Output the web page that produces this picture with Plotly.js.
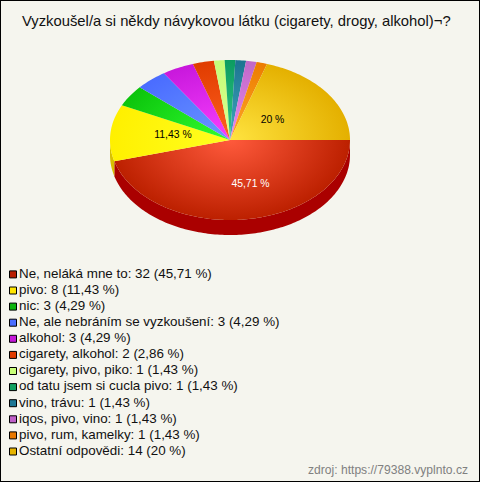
<!DOCTYPE html>
<html><head><meta charset="utf-8">
<script src="https://cdn.plot.ly/plotly-3.0.1.min.js"></script>
<style>html,body{margin:0;padding:0;background:#f5f5ee}#c{width:480px;height:482px}</style>
</head><body><div id="c"></div>
<script>
const categories = ["Ne, neláká mne to","pivo","nic","Ne, ale nebráním se vyzkoušení","alkohol","cigarety, alkohol","cigarety, pivo, piko","od tatu jsem si cucla pivo","vino, trávu","iqos, pivo, vino","pivo, rum, kamelky","Ostatní odpovědi"];
const counts = [32,8,3,3,3,2,1,1,1,1,1,14];
const shares = ["45,71 %","11,43 %","4,29 %","4,29 %","4,29 %","2,86 %","1,43 %","1,43 %","1,43 %","1,43 %","1,43 %","20 %"];
const legendColors = ["#b81e00","#ffe600","#0cb40c","#4a6eff","#c418d8","#e03c00","#c8ff78","#0fa060","#1e7896","#c060c8","#e87800","#e6b400"];
const centerColors = ["#ff5a3c","#ffff20","#30ff30","#6a96ff","#f840ff","#ff6020","#dcff90","#30c888","#40a8c0","#e888f0","#ffa828","#ffe440"];
const edgeColors = ["#bc2000","#fff000","#0cc40c","#4a6cff","#c818dc","#e03c00","#c4fc78","#0c9c60","#1c7490","#c068c8","#ec7c00","#e4b000"];
const wallColors = ["#aa0000","#d8c000"];

const CX=230, CY=140, RX=120, RY=80, DEPTH=15;
const total = counts.reduce((a,b)=>a+b,0);
const px = t => CX+RX*Math.cos(t), py = t => CY+RY*Math.sin(t);
const traces=[], HIDE={hoverinfo:'skip',showlegend:false};

function arc(a,b,dy){const xs=[],ys=[],n=Math.max(2,Math.ceil(Math.abs(b-a)/0.02));
  for(let i=0;i<=n;i++){const t=a+(b-a)*i/n;xs.push(px(t));ys.push(py(t)+dy);}return [xs,ys];}

let start=0; const ranges=counts.map(c=>{const r=[start,start+c/total*2*Math.PI];start=r[1];return r;});

wallColors.forEach((col,i)=>{
  const a=ranges[i][0], b=Math.min(ranges[i][1],Math.PI);
  const [x1,y1]=arc(a,b,0), [x2,y2]=arc(b,a,DEPTH);
  traces.push({type:'scatter',mode:'lines',x:x1.concat(x2),y:y1.concat(y2),fill:'toself',fillcolor:col,line:{width:0,color:col,simplify:false},...HIDE});
});
ranges.forEach((r,i)=>{
  const [xa,ya]=arc(r[0],r[1],0);
  const spurX=[CX,CX+RX,CX,CX-RX,CX,CX,CX,CX,CX], spurY=[CY,CY,CY,CY,CY,CY-RY,CY,CY+RY,CY];
  traces.push({type:'scatter',mode:'lines',name:categories[i],
    x:spurX.concat(xa,[CX]),y:spurY.concat(ya,[CY]),fill:'toself',
    fillgradient:{type:'radial',colorscale:[[0,centerColors[i]],[1,edgeColors[i]]]},
    line:{width:0,color:edgeColors[i],simplify:false},...HIDE});
});
const labelIdx=[0,1,11], labelPos=[[250.5,184],[173,135],[272.5,120]], labelCol=["#ffffff","#000000","#000000"];
traces.push({type:'scatter',mode:'text',x:labelPos.map(p=>p[0]),y:labelPos.map(p=>p[1]),text:labelIdx.map(i=>shares[i]),
  textposition:'middle center',textfont:{family:'Liberation Sans, Arial',size:10.4,color:labelCol},...HIDE});
const rowY=categories.map((c,i)=>274.4+i*16.1);
traces.push({type:'scatter',mode:'markers',x:categories.map(()=>13),y:rowY,
  marker:{symbol:'square',size:7,color:legendColors,line:{color:'#000',width:1}},...HIDE});
traces.push({type:'scatter',mode:'text',x:categories.map(()=>19),y:rowY,
  text:categories.map((c,i)=>`${c}: ${counts[i]} (${shares[i]})`),textposition:'middle right',
  textfont:{family:'Liberation Sans, Arial',size:13.4,color:'#111'},...HIDE});

const layout={width:480,height:482,margin:{l:0,r:0,t:0,b:0},paper_bgcolor:'#f5f5ee',plot_bgcolor:'#f5f5ee',showlegend:false,
  xaxis:{range:[0,480],visible:false,fixedrange:true},yaxis:{range:[482,0],visible:false,fixedrange:true},
  shapes:[{type:'rect',xref:'paper',yref:'paper',x0:0,x1:1,y0:0,y1:1,line:{color:'#000',width:2},fillcolor:'rgba(0,0,0,0)'}],
  annotations:[
   {xref:'x',yref:'y',x:236,y:21,text:'Vyzkoušel/a si někdy návykovou látku (cigarety, drogy, alkohol)¬?',showarrow:false,font:{family:'Liberation Sans, Arial',size:14.8,color:'#111'},xanchor:'center',yanchor:'middle'},
   {xref:'x',yref:'y',x:470,y:469.5,text:'zdroj: https://79388.vyplnto.cz',showarrow:false,font:{family:'Liberation Sans, Arial',size:12.1,color:'#808080'},xanchor:'right',yanchor:'middle'}
  ]};
Plotly.newPlot('c',traces,layout,{displayModeBar:false,staticPlot:true});
</script></body></html>
